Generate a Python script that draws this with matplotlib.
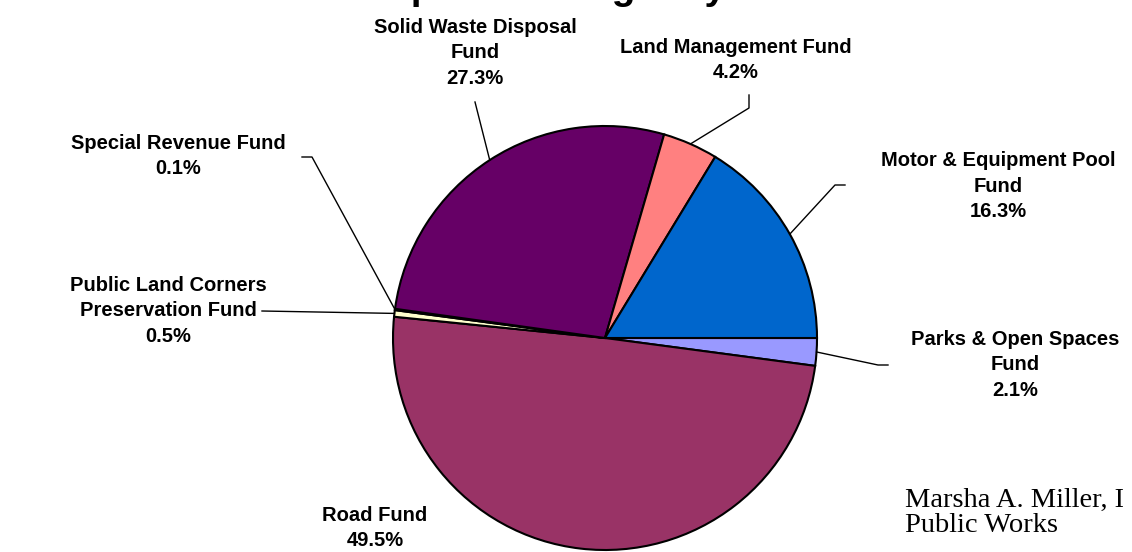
import numpy as np
import matplotlib.pyplot as plt

# slices in drawing order (clockwise from 3 o'clock)
funds = ['Parks & Open Spaces\nFund', 'Road Fund', 'Public Land Corners\nPreservation Fund',
         'Special Revenue Fund', 'Solid Waste Disposal\nFund', 'Land Management Fund',
         'Motor & Equipment Pool\nFund']
shares = [2.1, 49.5, 0.5, 0.1, 27.3, 4.2, 16.3]
colors = ['#9999FF', '#993366', '#FFFFCC', '#CCFFFF', '#660066', '#FF8080', '#0066CC']

W, H = 1132, 552
plt.rcParams['font.family'] = ['Liberation Sans', 'DejaVu Sans']

fig = plt.figure(figsize=(W / 100, H / 100), dpi=100)
ax = fig.add_axes([0, 0, 1, 1])

cx, cy, r = 605, H - 338, 212
wedges, _ = ax.pie(shares, colors=colors, startangle=0, counterclock=False,
                   center=(cx, cy), radius=r,
                   wedgeprops=dict(edgecolor='black', linewidth=1.5))
ax.set_xlim(0, W)
ax.set_ylim(0, H)
ax.set_aspect('equal')
ax.axis('off')


def edge_point(w):
    a = np.deg2rad((w.theta1 + w.theta2) / 2)
    return cx + r * np.cos(a), cy + r * np.sin(a)


# label text position (pixels from top-left) and leader path after the edge point
labels = {
    0: ((1015, 365), [(878, 365), (888, 365)]),
    1: ((375, 528), None),
    2: ((168, 311), [(262, 311)]),
    3: ((178, 156), [(312, 157), (302, 157)]),
    4: ((475, 53), [(475, 102)]),
    5: ((736, 60), [(749, 108), (749, 95)]),
    6: ((998, 186), [(835, 185), (845, 185)]),
}

for i, w in enumerate(wedges):
    (tx, ty), path = labels[i]
    ax.text(tx, H - ty, f'{funds[i]}\n{shares[i]:.1f}%', ha='center', va='center',
            fontsize=14.5, fontweight='bold', linespacing=1.45)
    if path:
        x0, y0 = edge_point(w)
        xs = [x0] + [p[0] for p in path]
        ys = [y0] + [H - p[1] for p in path]
        ax.plot(xs, ys, color='black', linewidth=1)

# title, clipped at the top like the source slide
ax.text(832, H + 1, 'Proposed Budget by Fund', ha='right', va='baseline',
        fontsize=28, fontweight='bold')

fig.text(905 / W, 1 - 513 / H, 'Marsha A. Miller, I\nPublic Works',
         ha='left', va='center', fontsize=20.5, family='Liberation Serif',
         linespacing=1.05)

fig.savefig('out.png', dpi=100)
